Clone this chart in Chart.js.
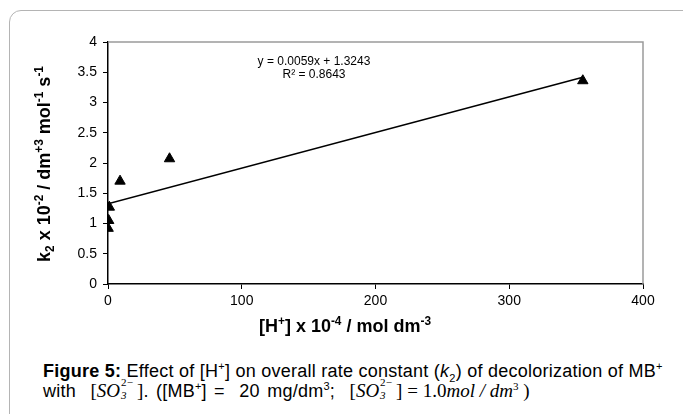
<!DOCTYPE html>
<html>
<head>
<meta charset="utf-8">
<script src="https://cdn.jsdelivr.net/npm/chart.js@4/dist/chart.umd.min.js"></script>
<style>
  html, body { margin: 0; padding: 0; background: #fff; width: 683px; height: 414px; overflow: hidden; }
  #frame { position: absolute; left: 9px; top: 10px; width: 690px; height: 430px; border: 1.5px solid #b4b4b4; border-radius: 12px; box-sizing: border-box; }
  #wrap { position: absolute; left: 0; top: 0; width: 683px; height: 345px; }
  #caption { position: absolute; left: 43px; top: 361px; font-family: "Liberation Sans", Arial, sans-serif; font-size: 18px; line-height: 20px; color: #000; white-space: nowrap; letter-spacing: 0.25px; }
  #caption sup, #caption sub { font-size: 11px; line-height: 0; }
  .l2 { word-spacing: 2px; }
  .m { font-family: "Liberation Serif", "Times New Roman", serif; font-style: italic; font-size: 19px; word-spacing: 0; letter-spacing: 0; }
  .r { font-family: "Liberation Serif", "Times New Roman", serif; font-size: 19px; word-spacing: 0; letter-spacing: 0; }
  .st { display: inline-block; position: relative; width: 17px; height: 10px; }
  .st .u { position: absolute; left: 1px; top: -10px; font-family: "Liberation Serif", serif; font-size: 11px; line-height: 11px; }
  .st .d { position: absolute; left: 1px; top: 3px; font-family: "Liberation Serif", serif; font-style: italic; font-size: 11px; line-height: 11px; }
</style>
</head>
<body>
<div id="frame"></div>
<div id="wrap"><canvas id="c" width="683" height="345"></canvas></div>
<div id="caption"><b>Figure 5:</b> Effect of [H<sup>+</sup>] on overall rate constant (<i>k</i><sub>2</sub>) of decolorization of MB<sup>+</sup><br><span class="l2">with&nbsp; <span class="r">[</span><span class="m">SO</span><span class="st"><span class="u">2&minus;</span><span class="d">3</span></span><span class="r">]</span>. ([MB<sup>+</sup>] =&nbsp; 20 mg/dm<sup>3</sup>;&nbsp; <span class="r">[</span><span class="m">SO</span><span class="st"><span class="u">2&minus;</span><span class="d">3</span></span><span class="r">] = 1.0</span><span class="m">mol / dm</span><sup class="r" style="font-size:11px">3</sup><span class="r"> )</span></span></div>
<script>
// ---- data ----
const hConc = [0.1, 0.5, 1, 9, 46, 355];          // [H+] x 10^-4 / mol dm^-3
const k2 = [0.92, 1.05, 1.27, 1.70, 2.07, 3.36];  // k2 x 10^-2
const trendSlope = [0.0059];
const trendIntercept = [1.3243];
const trendRange = [0, 355];
const xTicks = [0, 100, 200, 300, 400];
const yTicks = [0, 0.5, 1, 1.5, 2, 2.5, 3, 3.5, 4];
const eqLines = ["y = 0.0059x + 1.3243", "R\u00b2 = 0.8643"];

const FONT = '"Liberation Sans", Arial, sans-serif';

const scatterPts = hConc.map((x, i) => ({ x: x, y: k2[i] }));
const trendPts = trendRange.map(x => ({ x: x, y: trendSlope[0] * x + trendIntercept[0] }));

function drawRich(ctx, parts, cx, cy, size, rot) {
  ctx.save();
  ctx.translate(cx, cy);
  if (rot) ctx.rotate(rot);
  let total = 0;
  const widths = parts.map(p => {
    const s = p.s ? size * 0.66 : size;
    ctx.font = 'bold ' + s + 'px ' + FONT;
    const w = ctx.measureText(p.t).width;
    total += w;
    return w;
  });
  let x = -total / 2;
  ctx.fillStyle = '#000';
  ctx.textBaseline = 'alphabetic';
  ctx.textAlign = 'left';
  parts.forEach((p, i) => {
    const s = p.s ? size * 0.66 : size;
    ctx.font = 'bold ' + s + 'px ' + FONT;
    let dy = size * 0.36;
    if (p.s === 'sup') dy = size * 0.36 - size * 0.42;
    if (p.s === 'sub') dy = size * 0.36 + size * 0.22;
    ctx.fillText(p.t, x, dy);
    x += widths[i];
  });
  ctx.restore();
}

const decor = {
  id: 'decor',
  afterDraw(chart) {
    const ctx = chart.ctx;
    const a = chart.chartArea;
    ctx.save();
    ctx.strokeStyle = '#9a9a9a';
    ctx.lineWidth = 1.5;
    ctx.beginPath();
    ctx.moveTo(a.left, a.top);
    ctx.lineTo(a.right, a.top);
    ctx.lineTo(a.right, a.bottom);
    ctx.stroke();
    ctx.restore();
    ctx.save();
    ctx.fillStyle = '#000';
    ctx.font = '12px ' + FONT;
    ctx.textAlign = 'center';
    ctx.textBaseline = 'middle';
    ctx.fillText(eqLines[0], 314, 62);
    ctx.fillText(eqLines[1], 314, 75);
    ctx.restore();
    drawRich(ctx, [
      { t: '[H' }, { t: '+', s: 'sup' }, { t: '] x 10' }, { t: '-4', s: 'sup' },
      { t: ' / mol dm' }, { t: '-3', s: 'sup' }
    ], 345, 326, 18, 0);
    drawRich(ctx, [
      { t: 'k' }, { t: '2', s: 'sub' }, { t: ' x 10' }, { t: '-2', s: 'sup' },
      { t: ' / dm' }, { t: '+3', s: 'sup' }, { t: ' mol' }, { t: '-1', s: 'sup' },
      { t: ' s' }, { t: '-1', s: 'sup' }
    ], 44, 164, 18, -Math.PI / 2);
  }
};

new Chart(document.getElementById('c'), {
  type: 'scatter',
  data: {
    datasets: [
      {
        label: 'k2',
        data: scatterPts,
        pointStyle: 'triangle',
        radius: 6,
        hoverRadius: 6,
        backgroundColor: '#000',
        borderColor: '#000',
        borderWidth: 1,
        showLine: false
      },
      {
        label: 'trend',
        type: 'line',
        data: trendPts,
        borderColor: '#000',
        borderWidth: 1.5,
        pointRadius: 0,
        fill: false
      }
    ]
  },
  plugins: [decor],
  options: {
    responsive: false,
    animation: false,
    events: [],
    layout: { padding: { top: 42, right: 40, left: 0, bottom: 0 } },
    plugins: { legend: { display: false }, tooltip: { enabled: false } },
    scales: {
      x: {
        type: 'linear',
        min: 0, max: 400,
        afterBuildTicks: s => { s.ticks = xTicks.map(v => ({ value: v })); },
        afterFit: s => { s.height = 61; },
        grid: { display: true, drawOnChartArea: false, drawTicks: true, tickLength: 5, color: '#000' },
        border: { display: true, color: '#000', width: 1.5 },
        ticks: { color: '#000', font: { family: FONT, size: 14 }, padding: 4, maxRotation: 0, callback: v => String(v) }
      },
      y: {
        type: 'linear',
        min: 0, max: 4,
        afterBuildTicks: s => { s.ticks = yTicks.map(v => ({ value: v })); },
        afterFit: s => { s.width = 108; },
        grid: { display: true, drawOnChartArea: false, drawTicks: true, tickLength: 5, color: '#000' },
        border: { display: true, color: '#000', width: 1.5 },
        ticks: { color: '#000', font: { family: FONT, size: 14 }, padding: 6, callback: v => String(v) }
      }
    }
  }
});
</script>
</body>
</html>
